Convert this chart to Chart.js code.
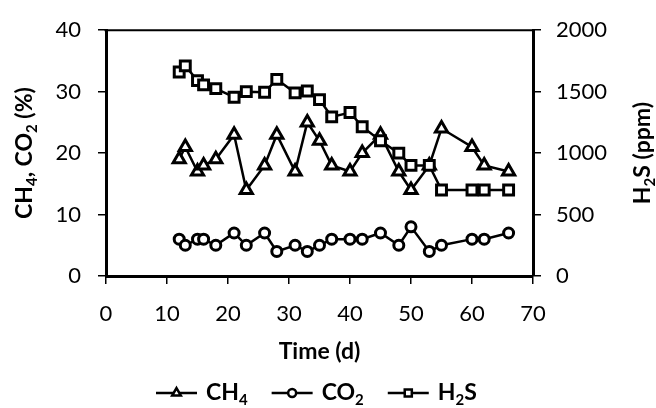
<!DOCTYPE html>
<html>
<head>
<meta charset="utf-8">
<script src="https://cdn.jsdelivr.net/npm/chart.js"></script>
<style>
  body { margin: 0; background: #fff; }
  #wrap { width: 656px; height: 408px; }
</style>
</head>
<body>
<div id="wrap"><canvas id="chart" width="656" height="408"></canvas></div>
<script>
// sampling days and the three gas readings
var days = [12, 13, 15, 16, 18, 21, 23, 26, 28, 31, 33, 35, 37, 40, 42, 45, 48, 50, 53, 55, 60, 62, 66];
var ch4 = [19, 21, 17, 18, 19, 23, 14, 18, 23, 17, 25, 22, 18, 17, 20, 23, 17, 14, 18, 24, 21, 18, 17];
var co2 = [6, 5, 6, 6, 5, 7, 5, 7, 4, 5, 4, 5, 6, 6, 6, 7, 5, 8, 4, 5, 6, 6, 7];
var h2s = [1660, 1710, 1590, 1555, 1525, 1455, 1500, 1495, 1600, 1490, 1505, 1435, 1295, 1330, 1215, 1100, 1000, 900, 900, 700, 700, 700, 700];

var xTicks = [0, 10, 20, 30, 40, 50, 60, 70];
var leftTicks = [0, 10, 20, 30, 40];
var rightTicks = [0, 500, 1000, 1500, 2000];

// text pieces: [text, isSubscript]
var leftTitle = [['CH', 0], ['4', 1], [', CO', 0], ['2', 1], [' (%)', 0]];
var rightTitle = [['H', 0], ['2', 1], ['S (ppm)', 0]];
var xTitle = [['Time (d)', 0]];
var legendItems = [
  { parts: [['CH', 0], ['4', 1]], style: 'triangle', r: 5 },
  { parts: [['CO', 0], ['2', 1]], style: 'circle', r: 4 },
  { parts: [['H', 0], ['2', 1], ['S', 0]], style: 'rect', r: 5 }
];

var FONT = 'Lato, "Open Sans", sans-serif';
Chart.defaults.font.family = FONT;
Chart.defaults.color = '#000';

function pts(ys) {
  return days.map(function(d, i){ return { x: d, y: ys[i] }; });
}

function series(label, ys, style, r, axis, order) {
  return {
    label: label,
    data: pts(ys),
    yAxisID: axis,
    order: order,
    borderColor: '#000',
    borderWidth: 2.5,
    tension: 0,
    pointStyle: style,
    pointRadius: r,
    pointHoverRadius: r,
    pointBackgroundColor: '#fff',
    pointBorderColor: '#000',
    pointBorderWidth: 3
  };
}

function fontFor(sub, size) {
  return 'bold ' + (sub ? Math.round(size * 0.65) : size) + 'px ' + FONT;
}

function partsWidth(ctx, parts, size) {
  var w = 0;
  parts.forEach(function(p){
    ctx.font = fontFor(p[1], size);
    w += ctx.measureText(p[0]).width;
  });
  return w;
}

// draws text with subscripts, starting at x (left) on a middle baseline
function drawParts(ctx, parts, x, y, size) {
  ctx.textAlign = 'left';
  ctx.textBaseline = 'middle';
  parts.forEach(function(p){
    ctx.font = fontFor(p[1], size);
    ctx.fillText(p[0], x, p[1] ? y + size * 0.32 : y);
    x += ctx.measureText(p[0]).width;
  });
}

function drawCentered(ctx, parts, cx, cy, size, rot) {
  ctx.save();
  ctx.translate(cx, cy);
  ctx.rotate(rot);
  drawParts(ctx, parts, -partsWidth(ctx, parts, size) / 2, 0, size);
  ctx.restore();
}

var decor = {
  id: 'decor',
  afterDraw: function(chart){
    var ctx = chart.ctx, a = chart.chartArea;
    ctx.save();
    ctx.fillStyle = '#000';
    ctx.strokeStyle = '#000';

    // top edge of the plot box
    ctx.lineWidth = 2;
    ctx.beginPath();
    ctx.moveTo(a.left - 1.5, a.top);
    ctx.lineTo(a.right + 1.5, a.top);
    ctx.stroke();

    var midY = (a.top + a.bottom) / 2;
    drawCentered(ctx, leftTitle, 25, midY, 23, -Math.PI / 2);
    drawCentered(ctx, rightTitle, 643, midY, 23, -Math.PI / 2);
    drawCentered(ctx, xTitle, (a.left + a.right) / 2, 352, 23, 0);

    // legend
    var x = 156, y = 393;
    legendItems.forEach(function(it){
      ctx.lineWidth = 2.5;
      ctx.beginPath();
      ctx.moveTo(x, y);
      ctx.lineTo(x + 41, y);
      ctx.stroke();
      ctx.fillStyle = '#fff';
      Chart.helpers.drawPoint(ctx, { pointStyle: it.style, radius: it.r, rotation: 0, borderWidth: 2.5 }, x + 20.5, y);
      ctx.fillStyle = '#000';
      drawParts(ctx, it.parts, x + 50, y, 23);
      x += 50 + partsWidth(ctx, it.parts, 23) + 24;
    });
    ctx.restore();
  }
};

function plain(v) { return String(v); }

function tickAxis(extra) {
  var base = {
    type: 'linear',
    border: { display: true, color: '#000', width: 3 },
    grid: { display: true, drawOnChartArea: false, drawTicks: true, tickLength: 8, color: '#000', lineWidth: 1.5 }
  };
  return Object.assign(base, extra);
}

new Chart(document.getElementById('chart'), {
  type: 'line',
  data: {
    datasets: [
      series('CH4', ch4, 'triangle', 7, 'y', 2),
      series('CO2', co2, 'circle', 5, 'y', 1),
      series('H2S', h2s, 'rect', 7, 'y2', 0)
    ]
  },
  options: {
    responsive: false,
    animation: false,
    layout: { padding: { top: 27, left: 0, right: 0, bottom: 0 } },
    plugins: { legend: { display: false }, tooltip: { enabled: false } },
    scales: {
      x: tickAxis({
        position: 'bottom', min: 0, max: 70,
        afterBuildTicks: function(s){ s.ticks = xTicks.map(function(v){ return { value: v }; }); },
        afterFit: function(s){ s.height = 132; },
        ticks: { font: { size: 22 }, color: '#000', padding: 17, maxRotation: 0, callback: plain }
      }),
      y: tickAxis({
        position: 'left', min: 0, max: 40,
        afterBuildTicks: function(s){ s.ticks = leftTicks.map(function(v){ return { value: v }; }); },
        afterFit: function(s){ s.width = 106; },
        ticks: { font: { size: 22 }, color: '#000', padding: 17, callback: plain }
      }),
      y2: tickAxis({
        position: 'right', min: 0, max: 2000,
        afterBuildTicks: function(s){ s.ticks = rightTicks.map(function(v){ return { value: v }; }); },
        afterFit: function(s){ s.width = 123; },
        ticks: { font: { size: 22 }, color: '#000', padding: 15, callback: plain }
      })
    }
  },
  plugins: [decor]
});
</script>
</body>
</html>
